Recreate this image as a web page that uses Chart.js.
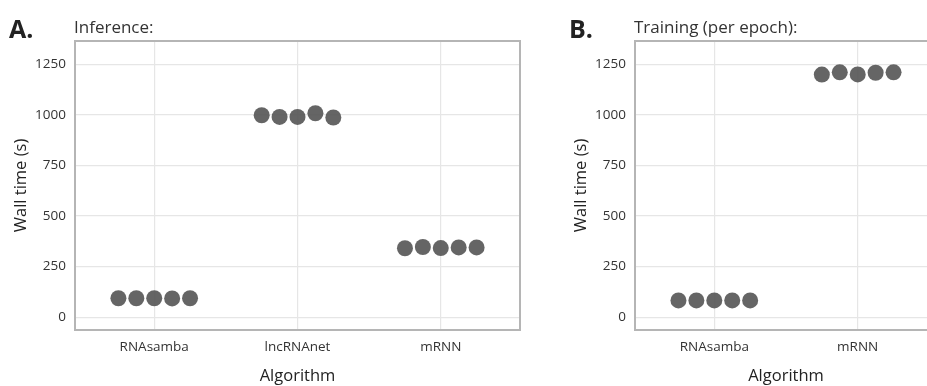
<!DOCTYPE html>
<html>
<head>
<meta charset="utf-8">
<script src="https://cdn.jsdelivr.net/npm/chart.js@4.4.1/dist/chart.umd.min.js"></script>
<style>
  html, body { margin: 0; padding: 0; background: #fff; overflow: hidden; width: 927px; height: 386px; }
  canvas { position: absolute; top: 0; }
  #chartA { left: 0; }
  #chartB { left: 560px; }
</style>
</head>
<body>
<canvas id="chartA" width="540" height="386"></canvas>
<canvas id="chartB" width="397" height="386"></canvas>
<script>
// Inference wall times (s), five runs per algorithm
const inferenceCategories = ['RNAsamba', 'lncRNAnet', 'mRNN'];
const inferenceRNAsamba = [94, 94, 94, 93, 94];
const inferenceLncRNAnet = [998, 990, 990, 1008, 987];
const inferenceMRNN = [341, 347, 342, 345, 345];

// Training wall times per epoch (s)
const trainingCategories = ['RNAsamba', 'mRNN'];
const trainingRNAsamba = [83, 83, 83, 83, 83];
const trainingMRNN = [1199, 1210, 1200, 1208, 1210];

const yTicks = [0, 250, 500, 750, 1000, 1250];

const FONT = '"Open Sans", "Noto Sans", sans-serif';
const pointColor = 'rgba(88, 88, 88, 0.92)';

// border box around the panel + panel labels
const panelPlugin = {
    id: 'panel',
    afterDraw(chart, args, opts) {
        const { ctx, chartArea } = chart;
        ctx.save();
        ctx.strokeStyle = '#b5b5b5';
        ctx.lineWidth = 2;
        ctx.strokeRect(chartArea.left, chartArea.top, chartArea.right - chartArea.left, chartArea.bottom - chartArea.top);
        ctx.fillStyle = '#222';
        ctx.textBaseline = 'alphabetic';
        ctx.font = 'bold 25px ' + FONT;
        ctx.fillText(opts.letter, 9, 38);
        ctx.font = '17px ' + FONT;
        ctx.fillStyle = '#333';
        ctx.fillText(opts.title, 74, 33);
        ctx.restore();
    }
};

const buildPoints = (groups) => {
    const pts = [];
    groups.forEach((vals, i) => {
        vals.forEach((v, j) => {
            pts.push({ x: i + 1 + (j - 2) * 0.125, y: v });
        });
    });
    return pts;
};

const createPanel = (ctx, letter, title, categories, groups) => {
    return new Chart(ctx, {
        type: 'scatter',
        data: {
            datasets: [{
                data: buildPoints(groups),
                backgroundColor: pointColor,
                borderWidth: 0,
                pointRadius: 8,
                pointHoverRadius: 8
            }]
        },
        options: {
            responsive: false,
            animation: false,
            devicePixelRatio: 1,
            layout: { padding: { top: 41, right: 20, left: 0, bottom: 0 } },
            plugins: {
                legend: { display: false },
                tooltip: { enabled: false },
                panel: { letter: letter, title: title }
            },
            scales: {
                x: {
                    type: 'linear',
                    min: 0.447,
                    max: categories.length + 0.553,
                    afterBuildTicks: (axis) => {
                        axis.ticks = categories.map((c, i) => ({ value: i + 1 }));
                    },
                    afterFit: (axis) => { axis.height = 56; },
                    ticks: {
                        callback: (v) => categories[v - 1],
                        color: '#333',
                        font: { family: FONT, size: 13.5 },
                        padding: 9,
                        maxRotation: 0
                    },
                    grid: { color: '#e6e6e6', lineWidth: 1.2, drawTicks: false },
                    border: { display: false },
                    title: {
                        display: true,
                        text: 'Algorithm',
                        color: '#222',
                        font: { family: FONT, size: 16.5 },
                        padding: { top: 4, bottom: 0 }
                    }
                },
                y: {
                    min: -63,
                    max: 1365,
                    afterBuildTicks: (axis) => {
                        axis.ticks = yTicks.map(v => ({ value: v }));
                    },
                    afterFit: (axis) => { axis.width = 75; },
                    ticks: {
                        callback: (v) => String(v),
                        color: '#333',
                        font: { family: FONT, size: 13.5 },
                        padding: 9
                    },
                    grid: { color: '#e6e6e6', lineWidth: 1.2, drawTicks: false },
                    border: { display: false },
                    title: {
                        display: true,
                        text: 'Wall time (s)',
                        color: '#222',
                        font: { family: FONT, size: 16.5 },
                        padding: { top: 11, bottom: 0 }
                    }
                }
            }
        },
        plugins: [panelPlugin]
    });
};

const inferenceChart = createPanel(
    document.getElementById('chartA').getContext('2d'),
    'A.', 'Inference:', inferenceCategories,
    [inferenceRNAsamba, inferenceLncRNAnet, inferenceMRNN]
);

const trainingChart = createPanel(
    document.getElementById('chartB').getContext('2d'),
    'B.', 'Training (per epoch):', trainingCategories,
    [trainingRNAsamba, trainingMRNN]
);
</script>
</body>
</html>
